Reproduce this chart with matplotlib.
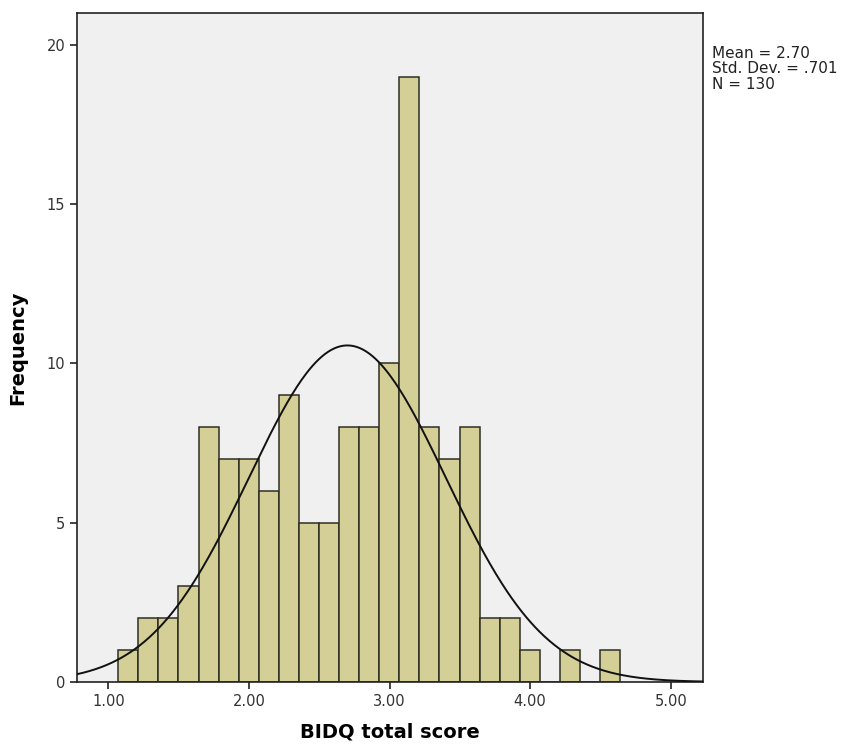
import numpy as np
import matplotlib
matplotlib.use("Agg")
import matplotlib.pyplot as plt

# histogram: 25 bins from 1.07 to 4.64
bin_start = 1.07
bin_end = 4.64
counts = [1, 2, 2, 3, 8, 7, 7, 6, 9, 5, 5, 8, 8, 10, 19, 8, 7, 8, 2, 2, 1, 0, 1, 0, 1]

mean = 2.70
std = 0.701
n = 130

xticks = [1.0, 2.0, 3.0, 4.0, 5.0]
xtick_labels = ["1.00", "2.00", "3.00", "4.00", "5.00"]
yticks = [0, 5, 10, 15, 20]

bar_color = "#d4ce97"
edge_color = "#2e2e22"
bg_color = "#f0f0f0"

plt.rcParams["font.family"] = ["DejaVu Sans"]

fig = plt.figure(figsize=(8.41, 7.46), dpi=100)
ax = fig.add_axes([0.0916, 0.0858, 0.7444, 0.8968])
ax.set_facecolor(bg_color)

edges = np.linspace(bin_start, bin_end, len(counts) + 1)
width = edges[1] - edges[0]
ax.bar(edges[:-1], counts, width=width, align="edge",
       color=bar_color, edgecolor=edge_color, linewidth=1.1, zorder=2)

# normal curve scaled to the histogram
xs = np.linspace(0.777, 5.23, 400)
ys = n * width * np.exp(-0.5 * ((xs - mean) / std) ** 2) / (std * np.sqrt(2 * np.pi))
ax.plot(xs, ys, color="#111111", linewidth=1.4, zorder=3)

ax.set_xlim(0.777, 5.23)
ax.set_ylim(0, 21.0)
ax.set_xticks(xticks)
ax.set_xticklabels(xtick_labels)
ax.set_yticks(yticks)
ax.tick_params(axis="both", direction="out", length=5, width=1.2,
               colors="#222222", labelsize=10.5, labelcolor="#333333")
for s in ax.spines.values():
    s.set_color("#222222")
    s.set_linewidth(1.2)

ax.set_xlabel("BIDQ total score", fontsize=14, fontweight="bold", labelpad=10)
ax.set_ylabel("Frequency", fontsize=14, fontweight="bold", labelpad=14)

fig.text(0.8466, 0.939, "Mean = 2.70\nStd. Dev. = .701\nN = 130",
         fontsize=11, va="top", ha="left", linespacing=1.05, color="#222222")

fig.savefig("out.png", dpi=100)
